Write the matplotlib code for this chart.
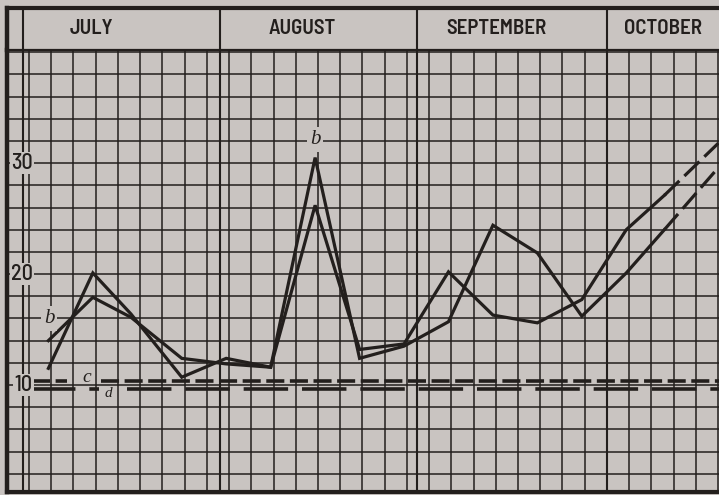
import numpy as np
import matplotlib
matplotlib.use("Agg")
import matplotlib.pyplot as plt

plt.rcParams['lines.scale_dashes'] = False

# x = days counted from July 1
days = [4, 11, 17, 25, 32, 39, 46, 53, 60, 67, 74, 81, 88, 95, 101, 109.5]
line_a = [11.5, 20.1, 16.4, 10.7, 12.4, 11.6, 30.5, 12.4, 13.5, 15.7, 24.4, 21.9, 16.2, 20.1, 24.0, 29.6]
line_b = [14.0, 17.9, 16.1, 12.4, 11.9, 11.6, 26.2, 13.2, 13.7, 20.2, 16.3, 15.6, 17.7, 24.0, 27.1, 31.8]
projected_from = 101   # after this day the curves are drawn dashed

level_c = 10.4
level_d = 9.6

months = ['JULY', 'AUGUST', 'SEPTEMBER', 'OCTOBER']
month_starts = [0, 31, 62, 92]
y_labels = [10, 20, 30]

paper = '#c9c4c1'
ink = '#231f1d'
narrow = ['Barlow Semi Condensed', 'DejaVu Sans']
serif = ['Liberation Serif', 'DejaVu Serif']

fig = plt.figure(figsize=(7.19, 4.95), dpi=100, facecolor=paper)
ax = fig.add_axes([7/719, 3/495, 712/719, 442/495])
hd = fig.add_axes([7/719, 445/495, 712/719, 42/495])

xlim = (-2.52, 109.6)
for a in (ax, hd):
    a.set_facecolor(paper)
    a.set_xlim(*xlim)
    a.set_xticks([])
    a.set_yticks([])
    a.spines['right'].set_visible(False)
    a.spines['left'].set_linewidth(3.2)
    for s in a.spines.values():
        s.set_color(ink)
ax.set_ylim(0.35, 40.2)
ax.spines['bottom'].set_linewidth(3)
ax.spines['top'].set_linewidth(1.6)
hd.set_ylim(0, 1)
hd.spines['top'].set_linewidth(3)
hd.spines['bottom'].set_linewidth(1.6)

# graph paper
for gx in np.arange(0.95, 110, 3.5):
    ax.axvline(gx, color=ink, lw=1.1, zorder=1)
for gy in range(2, 41, 2):
    ax.axhline(gy, color=ink, lw=1.1, zorder=1)
for m in month_starts:
    ax.axvline(m, color=ink, lw=1.5, zorder=1)
    hd.axvline(m, color=ink, lw=1.5)

# month headings
month_label_x = [10.7, 43.9, 74.5, 100.8]
for name, mx in zip(months, month_label_x):
    hd.text(mx, 0.5, name, ha='center', va='center', fontsize=15,
            fontweight=600, family=narrow, fontstretch='condensed', color=ink)

# scale figures
for v in y_labels:
    ax.text(1.5, v, str(v), ha='right', va='center', fontsize=16, family=narrow,
            fontweight=500, fontstretch='condensed', color=ink, zorder=5,
            bbox=dict(boxstyle='square,pad=0.05', fc=paper, ec='none'))

# curves: solid up to projected_from, dashed beyond
days_arr = np.array(days)
solid = days_arr <= projected_from
proj = days_arr >= projected_from
for vals in (line_a, line_b):
    vals = np.array(vals)
    ax.plot(days_arr[solid], vals[solid], color=ink, lw=2.3, zorder=3,
            solid_joinstyle='miter')
    ax.plot(days_arr[proj], vals[proj], color=ink, lw=2.3, zorder=3,
            linestyle=(0, (15, 5)))

# horizontal reference lines c and d, broken where their letters sit
for x0, x1 in [(1.4, 7.0), (12.3, xlim[1])]:
    ax.plot([x0, x1], [level_c, level_c], color=ink, lw=2.6, zorder=3,
            linestyle=(0, (13, 4)))
for x0, x1 in [(1.2, 12.0), (16.4, xlim[1])]:
    ax.plot([x0, x1], [level_d, level_d], color=ink, lw=2.6, zorder=3,
            linestyle=(0, (32, 10)))

# curve letters
lab = dict(family=serif, style='italic', ha='center', va='center',
           color=ink, zorder=6)
box = dict(boxstyle='square,pad=0.15', fc=paper, ec='none')
ax.text(4.1, 16.0, 'b', fontsize=15, bbox=box, **lab)
ax.text(46.0, 32.1, 'b', fontsize=15, bbox=box, **lab)
ax.text(10.1, 10.7, 'c', fontsize=14, **lab)
ax.text(13.4, 9.2, 'd', fontsize=11, **lab)

fig.savefig('out.png', dpi=100, facecolor=paper)
